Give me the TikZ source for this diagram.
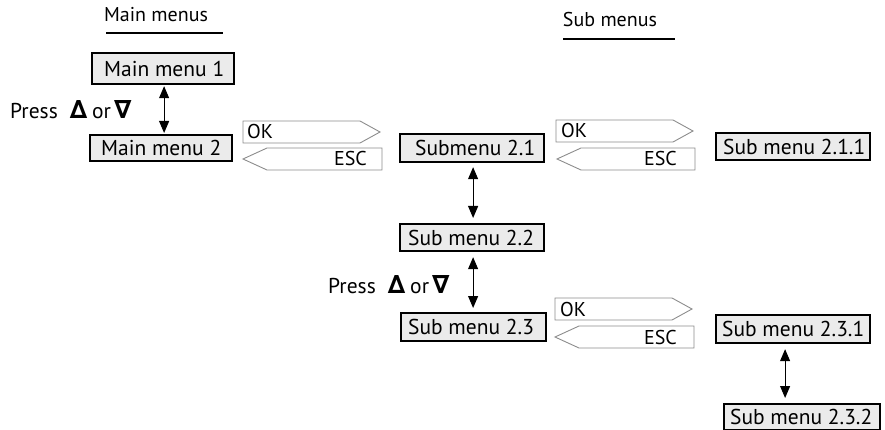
\documentclass[tikz,border=0pt]{standalone}
\usepackage{fontspec}
\setmainfont{PT Sans}
\newfontfamily\symfont{DejaVu Sans}
\usetikzlibrary{arrows.meta,calc}
\definecolor{boxfill}{HTML}{EBEBEB}
\definecolor{keyline}{HTML}{8C8C8C}
\newcommand{\tri}[1]{{\symfont\bfseries\fontsize{25}{25}\selectfont #1}}
\newcommand{\fixw}[2]{\makebox[#1][l]{#2}}
\begin{document}
\begin{tikzpicture}[x=1pt,y=-1pt,
  font=\fontsize{21.5}{23}\selectfont,
  menubox/.style={draw=black, line width=2.2pt, fill=boxfill, anchor=north west, inner ysep=0pt},
  keyshape/.style={draw=keyline, line width=0.9pt, fill=white},
  dbl/.style={line width=1pt, {Triangle[length=12pt,width=10pt]}-{Triangle[length=12pt,width=10pt]}},
  heading/.style={anchor=base, inner sep=0pt, font=\fontsize{20}{21}\selectfont},
  rule/.style={line width=2.6pt},
  keytext/.style={inner sep=0pt, font=\fontsize{20}{21}\selectfont}]
\useasboundingbox (0,0) rectangle (885,430);

% headings
\node[heading] (hmain) at (156,22) {Main menus};
\draw[rule] (106,33) -- (223,33);
\node[heading] (hsub) at (610,27) {Sub menus};
\draw[rule] (563,39) -- (675,39);

% menu boxes
\node[menubox, inner xsep=12pt, minimum height=31pt] (mm1) at (91,52) {\fixw{118pt}{Main menu 1}};
\node[menubox, inner xsep=11pt, minimum height=26pt] (mm2) at (89,134) {\fixw{120pt}{Main menu 2}};
\node[menubox, inner xsep=15pt, minimum height=28pt] (s21) at (399,133) {\fixw{114pt}{Submenu 2.1}};
\node[menubox, inner xsep=8pt, minimum height=27pt] (s22) at (399,223) {\fixw{128pt}{Sub menu 2.2}};
\node[menubox, inner xsep=7pt, minimum height=28pt] (s23) at (400,312) {\fixw{131pt}{Sub menu 2.3}};
\node[menubox, inner xsep=7pt, minimum height=27pt] (s211) at (715,132) {\fixw{140pt}{Sub menu 2.1.1}};
\node[menubox, inner xsep=6pt, minimum height=28pt] (s231) at (715,314) {\fixw{142pt}{Sub menu 2.3.1}};
\node[menubox, inner xsep=6pt, minimum height=26pt] (s232) at (723,403) {\fixw{144pt}{Sub menu 2.3.2}};

% double arrows
\draw[dbl, shorten <=1pt, shorten >=1pt] ([xshift=1pt]mm1.south) -- ([xshift=1pt]mm1.south |- mm2.north);
\draw[dbl, shorten <=4pt, shorten >=5pt] ([xshift=1pt]s21.south) -- ([xshift=1pt]s21.south |- s22.north);
\draw[dbl, shorten <=5pt, shorten >=4pt] ([xshift=1pt]s22.south) -- ([xshift=1pt]s22.south |- s23.north);
\draw[dbl, shorten <=5pt, shorten >=5pt] ([xshift=-8pt]s231.south) -- ([xshift=-8pt]s231.south |- s232.north);

% press labels
\node[anchor=base west, inner sep=0pt] (press1) at (10,119) {Press\hspace{12pt}\tri{∆}\hspace{5pt}or\hspace{3pt}\tri{∇}};
\node[anchor=base west, inner sep=0pt] (press2) at (328,293) {Press\hspace{12pt}\tri{∆}\hspace{5pt}or\hspace{3pt}\tri{∇}};

% OK / ESC keys, group 1
\draw[keyshape] (243,121) -- (360,121) -- (380,132) -- (360,143) -- (243,143) -- cycle;
\draw[keyshape] (243,159) -- (267,148) -- (382,148) -- (382,170) -- (267,170) -- cycle;
\node[keytext, anchor=base west] (ok1) at (247,139) {OK};
\node[keytext, anchor=base east] (esc1) at (367,166) {ESC};

% group 2
\draw[keyshape] (556,120) -- (673,120) -- (693,131) -- (673,142) -- (556,142) -- cycle;
\draw[keyshape] (557,159) -- (581,148) -- (695,148) -- (695,170) -- (581,170) -- cycle;
\node[keytext, anchor=base west] (ok2) at (561,138) {OK};
\node[keytext, anchor=base east] (esc2) at (677,166) {ESC};

% group 3
\draw[keyshape] (555,298) -- (672,298) -- (692,309) -- (672,320) -- (555,320) -- cycle;
\draw[keyshape] (555,337) -- (579,326) -- (694,326) -- (694,348) -- (579,348) -- cycle;
\node[keytext, anchor=base west] (ok3) at (560,316) {OK};
\node[keytext, anchor=base east] (esc3) at (677,344) {ESC};
\end{tikzpicture}
\end{document}
